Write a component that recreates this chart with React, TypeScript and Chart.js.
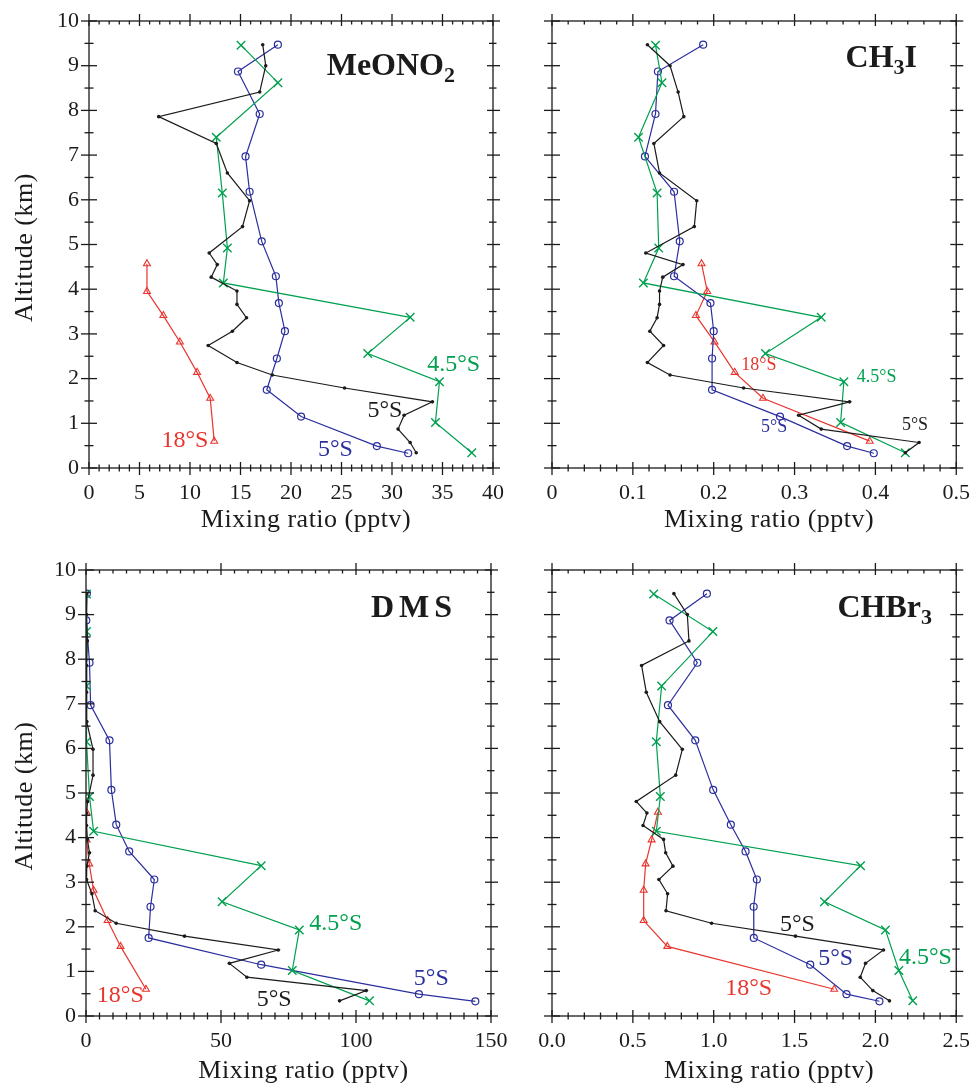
import React, { useEffect, useRef } from "react";
import { Chart, registerables } from "chart.js";

Chart.register(...registerables);

const FONT = "'Liberation Serif', 'Times New Roman', Times, serif";
const INK = "#1b1b1b";
const C_BLACK = "#1b1b1b";
const C_BLUE = "#2b2f9e";
const C_GREEN = "#00a04f";
const C_RED = "#e8352e";

// ---- altitudes (km) of each profile ----
const ALT_5S_A = [9.47, 9.0, 8.41, 7.86, 7.26, 6.6, 5.98, 5.4, 4.81, 4.55, 4.27, 3.96, 3.66, 3.36, 3.06, 2.74, 2.36, 2.08, 1.79, 1.48, 1.18, 0.87, 0.57, 0.34];
const ALT_5S_B = [9.47, 8.87, 7.92, 6.97, 6.18, 5.07, 4.29, 3.69, 3.06, 2.45, 1.75, 1.15, 0.49, 0.33];
const ALT_45S = [9.46, 8.62, 7.4, 6.15, 4.92, 4.14, 3.37, 2.56, 1.93, 1.02, 0.34];
const ALT_18S = [4.57, 3.95, 3.41, 2.82, 2.14, 1.56, 0.6];

// ---- MeONO2 (pptv) ----
const MEONO2_5S_A = [17.2, 17.5, 16.9, 6.9, 12.6, 13.7, 15.9, 15.2, 11.9, 12.7, 12.1, 14.65, 14.65, 15.6, 14.2, 11.8, 14.65, 18.15, 25.3, 34.0, 31.2, 30.6, 31.8, 32.4];
const MEONO2_5S_B = [18.7, 14.75, 16.9, 15.5, 15.9, 17.1, 18.5, 18.8, 19.4, 18.6, 17.6, 21.0, 28.5, 31.6];
const MEONO2_45S = [15.05, 18.7, 12.6, 13.2, 13.7, 13.3, 31.8, 27.6, 34.7, 34.3, 37.9];
const MEONO2_18S = [5.74, 5.74, 7.36, 9.0, 10.7, 12.0, 12.4];

// ---- CH3I (pptv) ----
const CH3I_5S_A = [0.118, 0.146, 0.156, 0.163, 0.126, 0.133, 0.179, 0.176, 0.116, 0.162, 0.137, 0.133, 0.133, 0.13, 0.121, 0.138, 0.118, 0.146, 0.237, 0.368, 0.305, 0.333, 0.454, 0.437];
const CH3I_5S_B = [0.187, 0.131, 0.128, 0.115, 0.151, 0.158, 0.151, 0.196, 0.2, 0.198, 0.198, 0.282, 0.365, 0.398];
const CH3I_45S = [0.128, 0.136, 0.107, 0.13, 0.132, 0.113, 0.333, 0.264, 0.361, 0.357, 0.437];
const CH3I_18S = [0.185, 0.192, 0.178, 0.201, 0.226, 0.261, 0.393];

// ---- DMS (pptv) ----
const DMS_5S_A = [0.3, 0.2, 0.5, 0.2, 0.2, 0.3, 2.6, 2.6, 0.6, 0.2, 0.2, 0.5, 1.3, 0.3, 0.2, 2.2, 3.4, 11.2, 36.5, 71.2, 53.1, 59.6, 103.8, 93.9];
const DMS_5S_B = [0.3, 0.1, 1.3, 1.7, 8.7, 9.4, 11.2, 16.0, 25.3, 23.9, 23.2, 64.9, 123.3, 144.2];
const DMS_45S = [0.2, 0.2, 0.2, 0.2, 1.3, 2.8, 64.9, 50.4, 79.0, 76.4, 105.0];
const DMS_18S = [0.2, 0.2, 1.2, 2.8, 8.0, 12.8, 22.2];

// ---- CHBr3 (pptv) ----
const CHBR3_5S_A = [0.754, 0.837, 0.847, 0.554, 0.583, 0.666, 0.806, 0.765, 0.521, 0.587, 0.563, 0.69, 0.703, 0.748, 0.661, 0.715, 0.705, 0.987, 1.506, 2.05, 1.939, 1.906, 1.984, 2.087];
const CHBR3_5S_B = [0.958, 0.727, 0.899, 0.717, 0.886, 0.997, 1.106, 1.197, 1.267, 1.247, 1.248, 1.597, 1.821, 2.025];
const CHBR3_45S = [0.629, 0.995, 0.678, 0.645, 0.67, 0.645, 1.908, 1.685, 2.062, 2.145, 2.231];
const CHBR3_18S = [0.655, 0.616, 0.579, 0.567, 0.567, 0.713, 1.745];

// ---- axis ticks ----
const Y_TICKS = [0, 1, 2, 3, 4, 5, 6, 7, 8, 9, 10];
const X_TITLE = "Mixing ratio (pptv)";
const Y_TITLE = "Altitude (km)";

type Seg = { t: string; sub?: boolean };
type Lbl = { text: string; x: number; y: number; color: string };
type PanelCfg = {
  key: string;
  canvas: { left: number; top: number; w: number; h: number };
  area: { l: number; t: number; r: number; b: number };
  xMax: number;
  xMajor: number;
  xMinor: number;
  fmt: (v: number) => string;
  showY: boolean;
  title: Seg[];
  titleRight: number;
  titleBase: number;
  titleSpacing: number;
  labelSize: number;
  labels: Lbl[];
  black: number[];
  blue: number[];
  green: number[];
  red: number[];
  xTitleBase: number;
};

const PANELS: PanelCfg[] = [
  {
    key: "meono2",
    canvas: { left: 0, top: 0, w: 520, h: 545 },
    area: { l: 89, t: 21, r: 493, b: 468 },
    xMax: 40, xMajor: 5, xMinor: 1,
    fmt: (v) => String(Math.round(v)),
    showY: true,
    title: [{ t: "MeONO" }, { t: "2", sub: true }],
    titleRight: 455, titleBase: 75, titleSpacing: 0,
    labelSize: 24,
    labels: [
      { text: "18°S", x: 9.5, y: 0.6, color: C_RED },
      { text: "5°S", x: 24.4, y: 0.4, color: C_BLUE },
      { text: "5°S", x: 29.3, y: 1.28, color: C_BLACK },
      { text: "4.5°S", x: 36.1, y: 2.3, color: C_GREEN },
    ],
    black: MEONO2_5S_A, blue: MEONO2_5S_B, green: MEONO2_45S, red: MEONO2_18S,
    xTitleBase: 59,
  },
  {
    key: "ch3i",
    canvas: { left: 520, top: 0, w: 455, h: 545 },
    area: { l: 32, t: 21, r: 437, b: 468 },
    xMax: 0.5, xMajor: 0.1, xMinor: 0.02,
    fmt: (v) => (Math.abs(v) < 1e-9 ? "0" : (Math.round(v * 10) / 10).toFixed(1)),
    showY: false,
    title: [{ t: "CH" }, { t: "3", sub: true }, { t: "I" }],
    titleRight: 917, titleBase: 67, titleSpacing: 0,
    labelSize: 18,
    labels: [
      { text: "18°S", x: 0.256, y: 2.29, color: C_RED },
      { text: "4.5°S", x: 0.4016, y: 2.02, color: C_GREEN },
      { text: "5°S", x: 0.2747, y: 0.92, color: C_BLUE },
      { text: "5°S", x: 0.449, y: 0.96, color: C_BLACK },
    ],
    black: CH3I_5S_A, blue: CH3I_5S_B, green: CH3I_45S, red: CH3I_18S,
    xTitleBase: 59,
  },
  {
    key: "dms",
    canvas: { left: 0, top: 545, w: 520, h: 538 },
    area: { l: 86, t: 25, r: 491, b: 471 },
    xMax: 150, xMajor: 50, xMinor: 5,
    fmt: (v) => String(Math.round(v)),
    showY: true,
    title: [{ t: "DMS" }],
    titleRight: 457, titleBase: 617, titleSpacing: 5,
    labelSize: 24,
    labels: [
      { text: "18°S", x: 12.7, y: 0.45, color: C_RED },
      { text: "5°S", x: 69.7, y: 0.36, color: C_BLACK },
      { text: "5°S", x: 127.9, y: 0.83, color: C_BLUE },
      { text: "4.5°S", x: 92.5, y: 2.06, color: C_GREEN },
    ],
    black: DMS_5S_A, blue: DMS_5S_B, green: DMS_45S, red: DMS_18S,
    xTitleBase: 62,
  },
  {
    key: "chbr3",
    canvas: { left: 520, top: 545, w: 455, h: 538 },
    area: { l: 32, t: 25, r: 437, b: 471 },
    xMax: 2.5, xMajor: 0.5, xMinor: 0.1,
    fmt: (v) => (Math.round(v * 10) / 10).toFixed(1),
    showY: false,
    title: [{ t: "CHBr" }, { t: "3", sub: true }],
    titleRight: 932, titleBase: 617, titleSpacing: 0,
    labelSize: 24,
    labels: [
      { text: "5°S", x: 1.518, y: 2.04, color: C_BLACK },
      { text: "5°S", x: 1.754, y: 1.28, color: C_BLUE },
      { text: "4.5°S", x: 2.309, y: 1.3, color: C_GREEN },
      { text: "18°S", x: 1.216, y: 0.61, color: C_RED },
    ],
    black: CHBR3_5S_A, blue: CHBR3_5S_B, green: CHBR3_45S, red: CHBR3_18S,
    xTitleBase: 62,
  },
];

function makeDecor(p: PanelCfg) {
  return {
    id: "decor_" + p.key,
    afterDraw(chart: any) {
      const ctx: CanvasRenderingContext2D = chart.ctx;
      const a = chart.chartArea;
      const xs = chart.scales.x;
      const ys = chart.scales.y;
      ctx.save();
      ctx.strokeStyle = INK;
      ctx.lineWidth = 1.3;
      ctx.strokeRect(a.left, a.top, a.right - a.left, a.bottom - a.top);
      const seg = (x1: number, y1: number, x2: number, y2: number) => {
        ctx.beginPath();
        ctx.moveTo(x1, y1);
        ctx.lineTo(x2, y2);
        ctx.stroke();
      };
      const nx = Math.round(p.xMax / p.xMinor);
      const rx = Math.round(p.xMajor / p.xMinor);
      for (let i = 0; i <= nx; i++) {
        const px = xs.getPixelForValue(i * p.xMinor);
        const maj = i % rx === 0;
        seg(px, a.bottom - (maj ? 6 : 3.5), px, a.bottom + (maj ? 7 : 3.5));
        seg(px, a.top - (maj ? 7 : 0), px, a.top + (maj ? 5 : 3.5));
      }
      for (let j = 0; j <= 20; j++) {
        const py = ys.getPixelForValue(j * 0.5);
        const maj = j % 2 === 0;
        seg(a.left - (maj ? 8 : 4.5), py, a.left + (maj ? 8 : 4.5), py);
        seg(a.right - (maj ? 6 : 4), py, a.right + (maj ? 7 : 3.5), py);
      }

      // panel title (bold, with subscripts)
      const cl = p.canvas.left;
      const ct = p.canvas.top;
      const mainSize = 32;
      const subSize = 22;
      ctx.fillStyle = INK;
      ctx.textAlign = "left";
      ctx.textBaseline = "alphabetic";
      (ctx as any).letterSpacing = p.titleSpacing + "px";
      const widths = p.title.map((s) => {
        ctx.font = `bold ${s.sub ? subSize : mainSize}px ${FONT}`;
        return ctx.measureText(s.t).width;
      });
      const total = widths.reduce((u, v) => u + v, 0);
      let x0 = p.titleRight - cl - total;
      const base = p.titleBase - ct;
      p.title.forEach((s, i) => {
        ctx.font = `bold ${s.sub ? subSize : mainSize}px ${FONT}`;
        ctx.fillText(s.t, x0, base + (s.sub ? 7 : 0));
        x0 += widths[i];
      });
      (ctx as any).letterSpacing = "0px";

      // series labels
      ctx.textAlign = "center";
      ctx.textBaseline = "middle";
      ctx.font = `${p.labelSize}px ${FONT}`;
      p.labels.forEach((l) => {
        ctx.fillStyle = l.color;
        ctx.fillText(l.text, xs.getPixelForValue(l.x), ys.getPixelForValue(l.y));
      });

      // axis titles
      ctx.fillStyle = INK;
      ctx.font = `26px ${FONT}`;
      (ctx as any).letterSpacing = "0.5px";
      ctx.textBaseline = "alphabetic";
      ctx.fillText(X_TITLE, (a.left + a.right) / 2 + 15, a.bottom + p.xTitleBase);
      if (p.showY) {
        ctx.save();
        ctx.translate(25 - cl, (a.top + a.bottom) / 2 + 3);
        ctx.rotate(-Math.PI / 2);
        ctx.textBaseline = "middle";
        ctx.fillText(Y_TITLE, 0, 0);
        ctx.restore();
      }
      (ctx as any).letterSpacing = "0px";
      ctx.restore();
    },
  };
}

function toPoints(vals: number[], alts: number[]) {
  return vals.map((v, i) => ({ x: v, y: alts[i] }));
}

function Panel({ cfg }: { cfg: PanelCfg }) {
  const ref = useRef<HTMLCanvasElement | null>(null);
  useEffect(() => {
    const c = ref.current;
    if (!c) return;
    const { w, h } = cfg.canvas;
    const a = cfg.area;
    const xHeight = h - a.b;
    const chart = new Chart(c, {
      type: "scatter",
      data: {
        datasets: [
          {
            data: toPoints(cfg.black, ALT_5S_A),
            showLine: true,
            borderColor: C_BLACK,
            borderWidth: 1.2,
            pointStyle: "circle",
            pointRadius: 1.8,
            pointBackgroundColor: C_BLACK,
            pointBorderColor: C_BLACK,
            pointBorderWidth: 0,
            tension: 0,
          },
          {
            data: toPoints(cfg.green, ALT_45S),
            showLine: true,
            borderColor: C_GREEN,
            borderWidth: 1.2,
            pointStyle: "crossRot",
            pointRadius: 6,
            pointBorderColor: C_GREEN,
            pointBackgroundColor: C_GREEN,
            pointBorderWidth: 1.4,
            tension: 0,
          },
          {
            data: toPoints(cfg.blue, ALT_5S_B),
            showLine: true,
            borderColor: C_BLUE,
            borderWidth: 1.2,
            pointStyle: "circle",
            pointRadius: 3.5,
            pointBackgroundColor: "rgba(255,255,255,0)",
            pointBorderColor: C_BLUE,
            pointBorderWidth: 1.2,
            tension: 0,
          },
          {
            data: toPoints(cfg.red, ALT_18S),
            showLine: true,
            borderColor: C_RED,
            borderWidth: 1.2,
            pointStyle: "triangle",
            pointRadius: 4,
            pointBackgroundColor: "rgba(255,255,255,0)",
            pointBorderColor: C_RED,
            pointBorderWidth: 1.1,
            tension: 0,
          },
        ],
      },
      options: {
        responsive: false,
        animation: false,
        events: [],
        layout: { padding: { left: 0, top: a.t, right: w - a.r, bottom: 0 } },
        plugins: { legend: { display: false }, tooltip: { enabled: false } },
        scales: {
          x: {
            type: "linear",
            position: "bottom",
            min: 0,
            max: cfg.xMax,
            grid: { display: false, drawTicks: true, tickLength: 7 },
            border: { display: false },
            ticks: {
              stepSize: cfg.xMajor,
              autoSkip: false,
              maxRotation: 0,
              padding: 5,
              color: INK,
              font: { family: FONT, size: 22 },
              callback: (v: any) => cfg.fmt(Number(v)),
            },
            afterFit: (s: any) => {
              s.height = xHeight;
            },
          },
          y: {
            type: "linear",
            position: "left",
            min: 0,
            max: 10,
            afterBuildTicks: (s: any) => {
              s.ticks = Y_TICKS.map((v) => ({ value: v }));
            },
            grid: { display: false, drawTicks: true, tickLength: 8 },
            border: { display: false },
            ticks: {
              display: cfg.showY,
              padding: 2,
              color: INK,
              font: { family: FONT, size: 22 },
              callback: (v: any) => String(v),
            },
            afterFit: (s: any) => {
              s.width = a.l;
            },
          },
        },
      },
      plugins: [makeDecor(cfg)],
    } as any);
    return () => chart.destroy();
  }, [cfg]);
  return (
    <canvas
      ref={ref}
      width={cfg.canvas.w}
      height={cfg.canvas.h}
      style={{ position: "absolute", left: cfg.canvas.left, top: cfg.canvas.top, width: cfg.canvas.w, height: cfg.canvas.h }}
    />
  );
}

export default function App() {
  return (
    <div style={{ position: "absolute", left: 0, top: 0, width: 975, height: 1083, background: "#fff", overflow: "hidden" }}>
      {PANELS.map((p) => (
        <Panel key={p.key} cfg={p} />
      ))}
    </div>
  );
}
